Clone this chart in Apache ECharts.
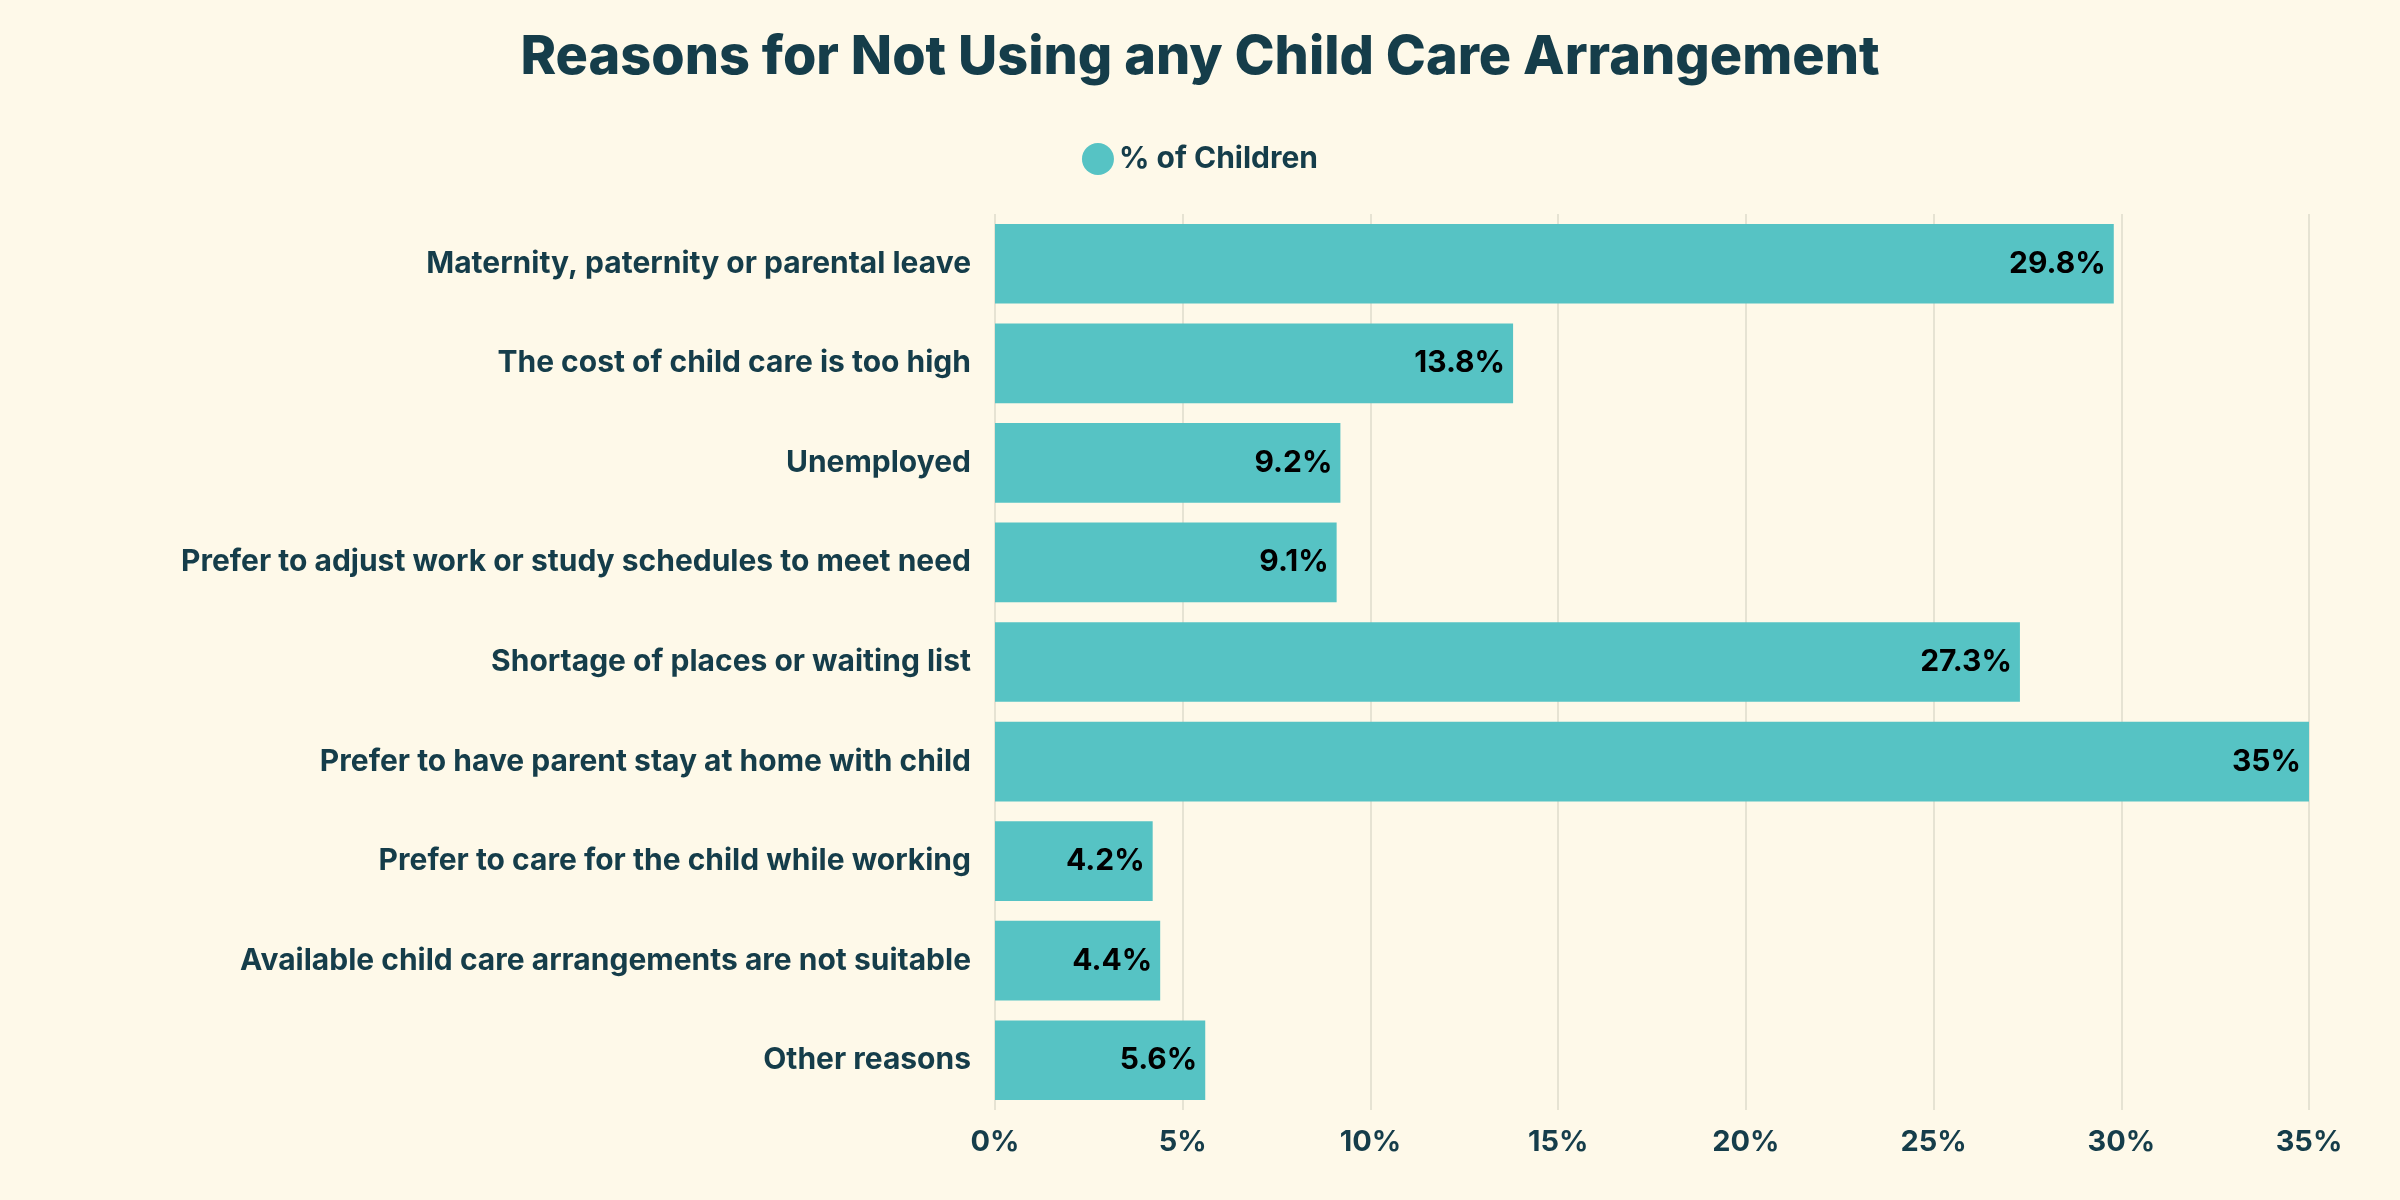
<!DOCTYPE html>
<html><head><meta charset="utf-8">
<script src="https://cdn.jsdelivr.net/npm/echarts@6/dist/echarts.min.js"></script>
<style>html,body{margin:0;background:#fef9e9}#c{width:2400px;height:1200px}</style>
</head><body><div id="c"></div>
<script>
const categories = ["Maternity, paternity or parental leave","The cost of child care is too high","Unemployed","Prefer to adjust work or study schedules to meet need","Shortage of places or waiting list","Prefer to have parent stay at home with child","Prefer to care for the child while working","Available child care arrangements are not suitable","Other reasons"];
const values = [29.8,13.8,9.2,9.1,27.3,35,4.2,4.4,5.6];
const seriesName = "% of Children";
const F = "Inter, 'Open Sans', sans-serif";
const C = "#153d4a";
const chart = echarts.init(document.getElementById('c'));
chart.setOption({
  backgroundColor:"#fef9e9",
  textStyle:{fontFamily:F},
  title:{text:"Reasons for Not Using any Child Care Arrangement",left:"center",top:26,textStyle:{fontSize:54,fontWeight:800,color:C,fontFamily:F}},
  legend:{top:138,left:"center",itemWidth:32,itemHeight:32,icon:"circle",textStyle:{fontSize:30,fontWeight:700,color:C,fontFamily:F}},
  grid:{left:995,right:91,top:214,bottom:90},
  xAxis:{type:"value",min:0,max:35,interval:5,
    axisLabel:{formatter:"{value}%",fontSize:29,fontWeight:700,color:C,margin:18},
    splitLine:{lineStyle:{color:"#e6e3d3",width:2}},axisLine:{show:false},axisTick:{show:false}},
  yAxis:{type:"category",data:categories,inverse:true,
    axisLabel:{fontSize:30,fontWeight:700,color:C,margin:24},
    axisLine:{show:false},axisTick:{show:false}},
  series:[{name:seriesName,type:"bar",data:values,barCategoryGap:"20%",
    itemStyle:{color:"#56c3c4"},
    label:{show:true,position:"insideRight",formatter:"{c}%",fontSize:30,fontWeight:700,color:"#000",distance:8}}]
});
</script></body></html>
